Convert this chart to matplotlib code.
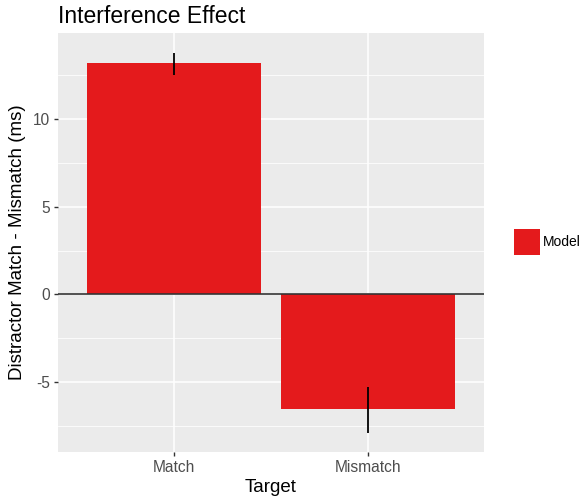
import matplotlib
matplotlib.use("Agg")
import matplotlib.pyplot as plt
from matplotlib.patches import Patch

plt.rcParams["font.family"] = ["Liberation Sans", "DejaVu Sans"]
plt.rcParams["axes.unicode_minus"] = False

targets = ["Match", "Mismatch"]
effect = [13.17, -6.52]
err_low = [12.5, -7.89]
err_high = [13.75, -5.27]
series_label = "Model"
y_ticks = [-5, 0, 5, 10]
y_minor = [-7.5, -2.5, 2.5, 7.5, 12.5]

BAR_RED = "#E41A1C"
PANEL_BG = "#EBEBEB"

fig = plt.figure(figsize=(5.82, 5.01), dpi=100)
ax = fig.add_axes([58 / 582, 49 / 501, 426 / 582, 419 / 501])
ax.set_facecolor(PANEL_BG)

positions = list(range(1, len(targets) + 1))
ax.bar(positions, effect, width=0.9, color=BAR_RED, zorder=3)
for pos, lo, hi in zip(positions, err_low, err_high):
    ax.vlines(pos, lo, hi, color="black", linewidth=1.3, zorder=4)
ax.axhline(0, color="#333333", linewidth=1.2, zorder=5)

ax.set_xlim(0.4, 2.6)
ax.set_ylim(-8.97, 14.89)
ax.set_xticks(positions)
ax.set_xticklabels(targets)
ax.set_yticks(y_ticks)
ax.set_yticks(y_minor, minor=True)

ax.grid(which="major", color="white", linewidth=1.1, zorder=0)
ax.grid(which="minor", axis="y", color="white", linewidth=0.55, zorder=0)
ax.set_axisbelow(True)
for spine in ax.spines.values():
    spine.set_visible(False)
ax.tick_params(which="major", length=3, width=1, color="#333333",
               labelsize=11.2, labelcolor="#4D4D4D", pad=3)
ax.tick_params(which="minor", length=0)

ax.set_xlabel("Target", fontsize=13.5, labelpad=3)
ax.set_ylabel("Distractor Match - Mismatch (ms)", fontsize=13.5, labelpad=5)
ax.set_title("Interference Effect", fontsize=16.5, loc="left", pad=7)

handles = [Patch(facecolor=BAR_RED, edgecolor="none", label=series_label)]
fig.legend(handles=handles, loc="center left", bbox_to_anchor=(503 / 582, 259 / 501),
           frameon=False, fontsize=10, handlelength=1.87, handleheight=2.5,
           handletextpad=0.2, borderpad=0.3)

fig.savefig("out.png", dpi=100)
